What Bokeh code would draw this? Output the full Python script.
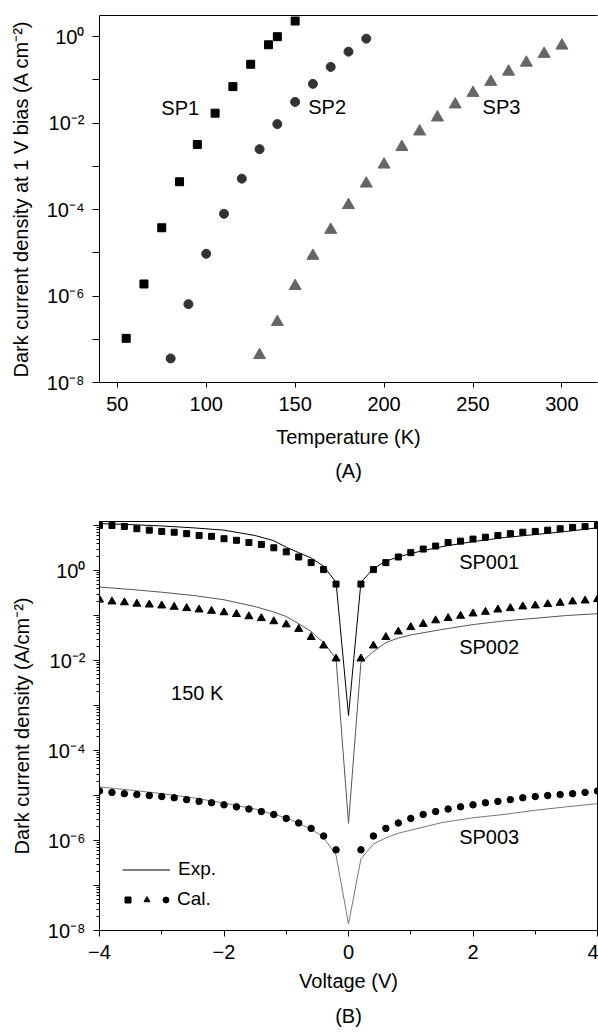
from bokeh.plotting import figure
from bokeh.models import (Range1d, FixedTicker, CustomJSTickFormatter, Label, Title,
                          LinearAxis, Legend, LegendItem)
from bokeh.layouts import column
from bokeh.embed import file_html
from bokeh.resources import INLINE

FONT = "Liberation Sans"

# ---------------- Panel (A) data ----------------
sp1_T = [55, 65, 75, 85, 95, 105, 115, 125, 135, 140, 150]
sp1_J = [1.05e-7, 1.9e-6, 3.8e-5, 4.4e-4, 3.2e-3, 1.7e-2, 7.0e-2, 0.23, 0.65, 1.0, 2.3]
sp2_T = [80, 90, 100, 110, 120, 130, 140, 150, 160, 170, 180, 190]
sp2_J = [3.6e-8, 6.5e-7, 9.5e-6, 8.0e-5, 5.2e-4, 2.5e-3, 9.5e-3, 3.1e-2, 8.1e-2, 0.2, 0.45, 0.9]
sp3_T = [130, 140, 150, 160, 170, 180, 190, 200, 210, 220, 230, 240, 250, 260, 270, 280, 290, 300]
sp3_J = [4.3e-8, 2.5e-7, 1.7e-6, 8.5e-6, 3.4e-5, 1.27e-4, 4.0e-4, 1.1e-3, 2.8e-3, 6.4e-3,
         1.35e-2, 2.7e-2, 5.0e-2, 9.0e-2, 0.155, 0.25, 0.4, 0.62]
T_TICKS = [50, 100, 150, 200, 250, 300]
DECADES_A = [1e-8, 1e-7, 1e-6, 1e-5, 1e-4, 1e-3, 1e-2, 1e-1, 1e0]

# ---------------- Panel (B) data ----------------
cal_V = [-4.0, -3.8, -3.6, -3.4, -3.2, -3.0, -2.8, -2.6, -2.4, -2.2, -2.0, -1.8, -1.6, -1.4,
         -1.2, -1.0, -0.8, -0.6, -0.4, -0.2, 0.2, 0.4, 0.6, 0.8, 1.0, 1.2, 1.4, 1.6, 1.8, 2.0,
         2.2, 2.4, 2.6, 2.8, 3.0, 3.2, 3.4, 3.6, 3.8, 4.0]
cal_sp001 = [10, 10, 9.55, 8.5, 7.9, 7.4, 7.1, 6.6, 6.0, 5.75, 5.1, 4.7, 4.2, 3.8, 3.2, 2.6, 2.0,
             1.5, 1.05, 0.5,
             0.5, 1.05, 1.5, 2.0, 2.5, 3.0, 3.5, 4.2, 4.5, 5.0, 5.5, 6.0, 6.6, 7.1, 7.4, 7.9, 8.5,
             9.1, 9.5, 10]
cal_sp002 = [0.224, 0.204, 0.195, 0.182, 0.174, 0.166, 0.155, 0.145, 0.135, 0.126, 0.117, 0.107,
             0.0955, 0.087, 0.074, 0.063, 0.05, 0.033, 0.0214, 0.011,
             0.011, 0.0214, 0.033, 0.0437, 0.055, 0.0646, 0.0776, 0.087, 0.098, 0.11, 0.12,
             0.135, 0.145, 0.158, 0.166, 0.178, 0.19, 0.204, 0.214, 0.229]
cal_sp003 = [1.26e-5, 1.17e-5, 1.1e-5, 1.05e-5, 1.0e-5, 9.5e-6, 8.9e-6, 8.1e-6, 7.4e-6, 6.9e-6,
             6.2e-6, 5.6e-6, 5.0e-6, 4.4e-6, 3.8e-6, 3.1e-6, 2.45e-6, 1.86e-6, 1.26e-6, 6.2e-7,
             6.2e-7, 1.26e-6, 1.86e-6, 2.45e-6, 3.1e-6, 3.8e-6, 4.4e-6, 5.0e-6, 5.6e-6, 6.2e-6,
             6.9e-6, 7.4e-6, 8.1e-6, 8.9e-6, 9.5e-6, 1.0e-5, 1.05e-5, 1.1e-5, 1.17e-5, 1.26e-5]

exp_V = [-4.0, -3.5, -3.0, -2.5, -2.0, -1.5, -1.2, -1.0, -0.8, -0.6, -0.4, -0.2, 0.0,
         0.2, 0.4, 0.6, 0.8, 1.0, 1.5, 2.0, 2.5, 3.0, 3.5, 4.0]
exp_sp001 = [11.0, 10.5, 9.8, 8.9, 7.9, 6.0, 4.6, 3.3, 2.5, 1.9, 1.25, 0.55, 6.0e-4,
             0.55, 1.1, 1.62, 2.0, 2.4, 3.4, 4.4, 5.4, 6.3, 7.4, 8.9]
exp_sp002 = [0.43, 0.38, 0.33, 0.28, 0.224, 0.158, 0.12, 0.095, 0.066, 0.044, 0.025, 0.011, 2.4e-6,
             0.0091, 0.0158, 0.025, 0.0316, 0.037, 0.049, 0.063, 0.076, 0.087, 0.1, 0.11]
exp_sp003 = [1.55e-5, 1.32e-5, 1.1e-5, 8.9e-6, 6.8e-6, 5.0e-6, 3.8e-6, 3.2e-6, 2.4e-6, 1.8e-6,
             1.17e-6, 4.7e-7, 1.4e-8, 3.9e-7, 8.3e-7, 1.15e-6, 1.45e-6, 1.7e-6, 2.5e-6, 3.2e-6,
             3.8e-6, 4.7e-6, 5.6e-6, 6.6e-6]
V_TICKS = [-4, -2, 0, 2, 4]
V_MINOR = [-3, -1, 1, 3]
DECADES_B = [1e-8, 1e-7, 1e-6, 1e-5, 1e-4, 1e-3, 1e-2, 1e-1, 1e0, 1e1]
MINOR_B = [m * d for d in DECADES_B for m in range(2, 10) if m * d < 12.3]

LOG_FMT = CustomJSTickFormatter(code="""
const e = Math.round(Math.log10(tick));
if (e % 2 !== 0) { return ""; }
const sup = {"-": "\\u207b", "0": "\\u2070", "1": "\\u00b9", "2": "\\u00b2", "3": "\\u00b3",
             "4": "\\u2074", "5": "\\u2075", "6": "\\u2076", "7": "\\u2077", "8": "\\u2078",
             "9": "\\u2079"};
return "10" + String(e).split("").map(c => sup[c]).join("");
""")
MINUS_FMT = CustomJSTickFormatter(code="""
return tick < 0 ? "\\u2212" + Math.abs(tick) : String(tick);
""")


def style_axis(ax, label_standoff):
    ax.axis_line_color = "black"
    ax.axis_line_width = 1
    ax.major_tick_line_color = "black"
    ax.minor_tick_line_color = "black"
    ax.major_tick_in = 0
    ax.minor_tick_in = 0
    ax.major_label_text_font = FONT
    ax.major_label_text_font_size = "20px"
    ax.major_label_text_color = "black"
    ax.axis_label_text_font = FONT
    ax.axis_label_text_font_size = "20px"
    ax.axis_label_text_font_style = "normal"
    ax.axis_label_text_color = "black"
    ax.axis_label_standoff = label_standoff


# ---------------- Figure (A) ----------------
p1 = figure(width=598, height=500, y_axis_type="log",
            x_range=Range1d(40, 320), y_range=Range1d(1e-8, 3.09),
            output_backend="svg", toolbar_location=None,
            min_border_left=99, min_border_right=0, min_border_top=15, min_border_bottom=118)
p1.grid.visible = False
p1.outline_line_color = None

p1.scatter(sp1_T, sp1_J, marker="square", size=8, color="black")
p1.scatter(sp2_T, sp2_J, marker="circle", size=9, color="#333333")
p1.scatter(sp3_T, sp3_J, marker="triangle", size=12, color="#666666")

style_axis(p1.xaxis[0], 12)
p1.xaxis.ticker = FixedTicker(ticks=T_TICKS, minor_ticks=[])
p1.xaxis.major_tick_out = 5
p1.xaxis.major_label_standoff = 9
p1.xaxis.axis_label = "Temperature (K)"

style_axis(p1.yaxis[0], 12)
p1.yaxis.ticker = FixedTicker(ticks=DECADES_A, minor_ticks=[])
p1.yaxis.formatter = LOG_FMT
p1.yaxis.major_tick_out = 7
p1.yaxis.major_label_standoff = 8
p1.yaxis.axis_label = "Dark current density at 1 V bias (A cm\u207b\u00b2)"

top_line = LinearAxis(major_tick_line_color=None, minor_tick_line_color=None,
                      major_tick_out=0, minor_tick_out=0, major_label_text_font_size="0px",
                      major_label_standoff=0, axis_line_color="black",
                      ticker=FixedTicker(ticks=[], minor_ticks=[]))
p1.add_layout(top_line, "above")

for txt, tx, ty in [("SP1", 85.4, 10 ** -1.65), ("SP2", 168, 10 ** -1.63), ("SP3", 266, 10 ** -1.63)]:
    p1.add_layout(Label(x=tx, y=ty, text=txt, text_align="center", text_baseline="middle",
                        text_font=FONT, text_font_size="20px", text_color="black"))

p1.add_layout(Title(text="(A)", align="center", text_font=FONT, text_font_size="20px",
                    text_font_style="normal", text_color="black", standoff=14), "below")

# ---------------- Figure (B) ----------------
p2 = figure(width=598, height=534, y_axis_type="log",
            x_range=Range1d(-4, 4), y_range=Range1d(1e-8, 12.3),
            output_backend="svg", toolbar_location=None,
            min_border_left=97, min_border_right=1, min_border_top=21, min_border_bottom=104)
p2.grid.visible = False
p2.outline_line_color = "black"
p2.outline_line_width = 1

l1 = p2.line(exp_V, exp_sp001, line_color="black", line_width=1)
p2.line(exp_V, exp_sp002, line_color="#555555", line_width=1)
p2.line(exp_V, exp_sp003, line_color="#777777", line_width=1)
r_sq = p2.scatter(cal_V, cal_sp001, marker="square", size=6, color="black")
r_tr = p2.scatter(cal_V, cal_sp002, marker="triangle", size=8, color="black")
r_ci = p2.scatter(cal_V, cal_sp003, marker="circle", size=6.5, color="black")

style_axis(p2.xaxis[0], 8)
p2.xaxis.ticker = FixedTicker(ticks=V_TICKS, minor_ticks=V_MINOR)
p2.xaxis.formatter = MINUS_FMT
p2.xaxis.major_tick_out = 6
p2.xaxis.minor_tick_out = 4
p2.xaxis.major_label_standoff = 8
p2.xaxis.axis_label = "Voltage (V)"

style_axis(p2.yaxis[0], 12)
p2.yaxis.ticker = FixedTicker(ticks=DECADES_B, minor_ticks=MINOR_B)
p2.yaxis.formatter = LOG_FMT
p2.yaxis.major_tick_out = 6
p2.yaxis.minor_tick_out = 3
p2.yaxis.major_label_standoff = 8
p2.yaxis.axis_label = "Dark current density (A/cm\u207b\u00b2)"

for txt, tx, ty in [("SP001", 2.26, 10 ** 0.18), ("SP002", 2.26, 10 ** -1.71),
                    ("SP003", 2.26, 10 ** -5.93), ("150 K", -2.43, 10 ** -2.73)]:
    p2.add_layout(Label(x=tx, y=ty, text=txt, text_align="center", text_baseline="middle",
                        text_font=FONT, text_font_size="20px", text_color="black"))

leg_exp = Legend(items=[LegendItem(label="Exp.", renderers=[l1])], location=(23, 50),
                 glyph_width=48, glyph_height=15, label_standoff=8, label_height=0, label_width=0,
                 padding=0, margin=0, spacing=0, border_line_color=None,
                 background_fill_alpha=0, label_text_font=FONT, label_text_font_size="19px",
                 label_text_color="black")
leg_cal = Legend(items=[LegendItem(label="", renderers=[r_sq]),
                        LegendItem(label="", renderers=[r_tr]),
                        LegendItem(label="Cal.", renderers=[r_ci])],
                 location=(21, 20), orientation="horizontal",
                 glyph_width=15, glyph_height=15, label_standoff=4, label_height=0, label_width=0,
                 padding=0, margin=0, spacing=0, border_line_color=None,
                 background_fill_alpha=0, label_text_font=FONT, label_text_font_size="19px",
                 label_text_color="black")
p2.add_layout(leg_exp)
p2.add_layout(leg_cal)

p2.add_layout(Title(text="(B)", align="center", text_font=FONT, text_font_size="20px",
                    text_font_style="normal", text_color="black", standoff=16), "below")

layout = column(p1, p2, spacing=0)
open("out.html", "w").write(file_html(layout, INLINE))
